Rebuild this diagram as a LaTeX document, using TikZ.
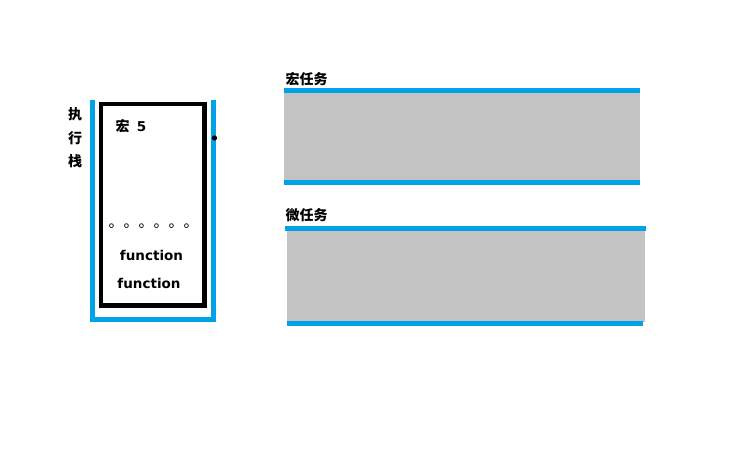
\documentclass[tikz,border=0pt]{standalone}
\usepackage{fontspec}
\setmainfont{DejaVu Sans}
\newfontfamily\cjk{Noto Sans CJK SC}
\definecolor{qblue}{HTML}{00A2E8}
\definecolor{qgray}{HTML}{C3C3C3}

\begin{document}
\begin{tikzpicture}[x=1pt,y=-1pt,
      lbl/.style={font=\cjk\bfseries\fontsize{14}{14}\selectfont,inner sep=0pt},
      fn/.style={font=\bfseries\fontsize{13.5}{14}\selectfont,inner sep=0pt},
      rim/.style={qblue,line width=5pt},
      queue/.style={fill=qgray,draw=none}]
    \useasboundingbox (0,0) rectangle (732,472);
    % execution stack
    \draw[rim] (92.5,100) -- (92.5,319.5) -- (213.5,319.5) -- (213.5,100);
    \draw[line width=4.5pt] (101,104) rectangle (204.5,305.5);
    \fill (214.5,138) circle (2.6);
    \node[lbl] (zhi) at (75,114) {执};
    \node[lbl] (xing) at (75,138.5) {行};
    \node[lbl] (zhan) at (75,161.5) {栈};
    \node[lbl] (hong) at (122.5,126.5) {宏};
    \node[fn] (five) at (141.5,126.5) {5};
    \node[lbl,anchor=base west,font=\cjk\fontsize{15}{15}\selectfont] (dots) at (108.5,227) {。。。。。。};
    \node[fn] (fnA) at (151.5,255) {function};
    \node[fn] (fnB) at (149,283.5) {function};
    % macro task queue
    \fill[queue] (284,92) rectangle (640,180);
    \draw[rim] (284,90.5) -- (640,90.5);
    \draw[rim] (284,182.5) -- (640,182.5);
    \node[lbl] (macro) at (306.5,79.5) {宏任务};
    % micro task queue
    \fill[queue] (287,231) rectangle (645,322);
    \draw[rim] (285,228.5) -- (646,228.5);
    \draw[rim] (287,323.5) -- (643,323.5);
    \node[lbl] (micro) at (306.5,215) {微任务};
\end{tikzpicture}
\end{document}
